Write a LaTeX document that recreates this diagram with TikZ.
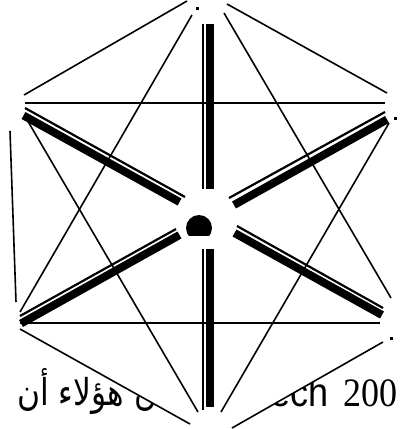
\documentclass[tikz,border=0pt]{standalone}
\usepackage{fontspec}
\setmainfont{Liberation Serif}
\newfontfamily\arialfont{Liberation Sans}
\newfontfamily\arabicfont[Script=Arabic]{DejaVu Sans}
\TeXXeTstate=1
\tikzset{
  hair/.style={line width=1.6pt,black},
  spokethin/.style={line width=2.2pt,black},
  spokethick/.style={line width=8pt,black},
  dotmark/.style={fill=black,draw=none,minimum size=3pt,inner sep=0pt,rectangle},
  bigtext/.style={inner sep=0pt,anchor=base east,black}
}
\begin{document}
\begin{tikzpicture}[x=1pt,y=-1pt]
\useasboundingbox (0,0) rectangle (403,429);
% text underneath
\node[bigtext] (tnum) at (398,406) {\scalebox{1}[1.12]{\fontsize{36}{40}\selectfont 200}};
\node[bigtext] (tlat) at (329,406) {\scalebox{1}[1.12]{\fontsize{36}{40}\selectfont\arialfont ech}};
\node[bigtext,anchor=base west] (ta) at (17,405) {\resizebox{140pt}{37pt}{\fontsize{36}{40}\selectfont\arabicfont\beginR ن هؤلاء أن\endR}};
% white mask
\fill[white] (20,329) -- (190,424) -- (210,429) -- (232,428) -- (383,342) -- (383,329) -- cycle;
% outer lines
\draw[hair] (187,1) -- (24,95);
\draw[hair] (227,4) -- (387,93);
\draw[hair] (10,131) -- (16,302);
\draw[hair] (20,329) -- (190,424);
\draw[hair] (232,428) -- (383,342);
\draw[hair] (25,103) -- (385,103);
\draw[hair] (20,323) -- (380,323);
% star lines
\draw[hair] (192,15) -- (20,312);
\draw[hair] (224,13) -- (391,298);
\draw[hair] (198,412) -- (26,118);
\draw[hair] (221,412) -- (389,123);
% spokes
\draw[spokethin] (202.8,24) -- (202.8,189);
\draw[spokethick] (209.5,24) -- (209.5,189);
\draw[spokethin] (202.8,249) -- (202.8,410);
\draw[spokethick] (209.5,249) -- (209.5,407);
\draw[spokethin] (25,108) -- (185,197);
\draw[spokethick] (23.5,115.5) -- (179.5,202);
\draw[spokethin] (229,198) -- (385,112);
\draw[spokethick] (234,205) -- (387,119.5);
\draw[spokethin] (176,229) -- (20,316);
\draw[spokethick] (179.5,235) -- (21,323.5);
\draw[spokethin] (237,226) -- (383,308);
\draw[spokethick] (234.5,233) -- (382,315);
% hub
\begin{scope}
\clip (180,210) rectangle (218,235);
\fill[black] (199,228) circle[radius=13];
\end{scope}
% dots
\node[dotmark] (d1) at (197,8) {};
\node[dotmark] (d2) at (395,118) {};
\node[dotmark] (d3) at (391,338) {};
\end{tikzpicture}
\end{document}
